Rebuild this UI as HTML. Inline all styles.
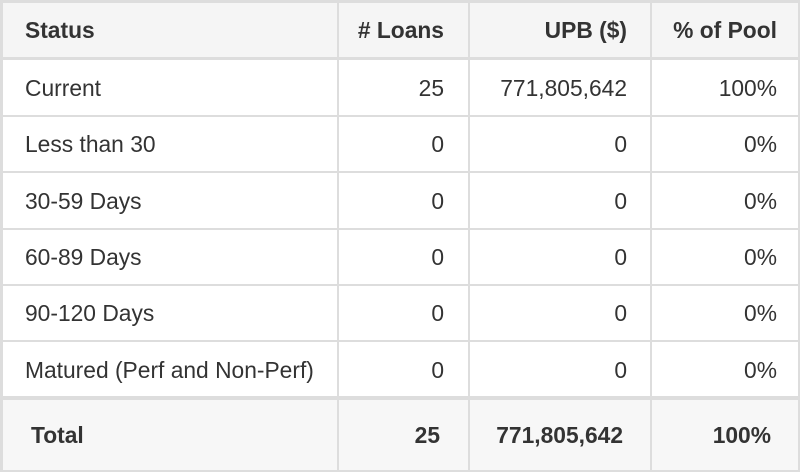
<!DOCTYPE html>
<html><head><style>
body{margin:0;width:800px;height:472px;background:#fff;font-family:"Liberation Sans",Arial,sans-serif;color:#333;position:relative;overflow:hidden}
.h{position:absolute;background:#ddd}
.t{position:absolute;font-size:22.8px;line-height:26px;white-space:nowrap}
.b{font-weight:bold}
.r{text-align:right}
</style></head><body>
<div style="position:absolute;left:0;top:0;width:800px;height:58px;background:#f5f5f5"></div>
<div style="position:absolute;left:0;top:399px;width:800px;height:73px;background:#f7f7f7"></div>
<div class="h" style="left:0;top:0;width:800px;height:3px"></div>
<div class="h" style="left:0;top:57px;width:800px;height:3px"></div>
<div class="h" style="left:0;top:115px;width:800px;height:2px"></div>
<div class="h" style="left:0;top:171px;width:800px;height:2px"></div>
<div class="h" style="left:0;top:228px;width:800px;height:2px"></div>
<div class="h" style="left:0;top:284px;width:800px;height:2px"></div>
<div class="h" style="left:0;top:340px;width:800px;height:2px"></div>
<div class="h" style="left:0;top:396px;width:800px;height:4px"></div>
<div class="h" style="left:0;top:470px;width:800px;height:2px"></div>
<div class="h" style="left:0;top:0;width:3px;height:472px"></div>
<div class="h" style="left:337px;top:0;width:2px;height:472px"></div>
<div class="h" style="left:468px;top:0;width:2px;height:472px"></div>
<div class="h" style="left:650px;top:0;width:2px;height:472px"></div>
<div class="h" style="left:798px;top:0;width:2px;height:472px"></div>

<div class="t b" style="left:25px;top:17px">Status</div>
<div class="t b r" style="right:356px;top:17px"># Loans</div>
<div class="t b r" style="right:173px;top:17px">UPB ($)</div>
<div class="t b r" style="right:23px;top:17px">% of Pool</div>

<div class="t" style="left:25px;top:75px">Current</div>
<div class="t r" style="right:356px;top:75px">25</div>
<div class="t r" style="right:173px;top:75px">771,805,642</div>
<div class="t r" style="right:23px;top:75px">100%</div>

<div class="t" style="left:25px;top:131px">Less than 30</div>
<div class="t r" style="right:356px;top:131px">0</div>
<div class="t r" style="right:173px;top:131px">0</div>
<div class="t r" style="right:23px;top:131px">0%</div>

<div class="t" style="left:25px;top:188px">30-59 Days</div>
<div class="t r" style="right:356px;top:188px">0</div>
<div class="t r" style="right:173px;top:188px">0</div>
<div class="t r" style="right:23px;top:188px">0%</div>

<div class="t" style="left:25px;top:244px">60-89 Days</div>
<div class="t r" style="right:356px;top:244px">0</div>
<div class="t r" style="right:173px;top:244px">0</div>
<div class="t r" style="right:23px;top:244px">0%</div>

<div class="t" style="left:25px;top:300px">90-120 Days</div>
<div class="t r" style="right:356px;top:300px">0</div>
<div class="t r" style="right:173px;top:300px">0</div>
<div class="t r" style="right:23px;top:300px">0%</div>

<div class="t" style="left:25px;top:357px">Matured (Perf and Non-Perf)</div>
<div class="t r" style="right:356px;top:357px">0</div>
<div class="t r" style="right:173px;top:357px">0</div>
<div class="t r" style="right:23px;top:357px">0%</div>

<div class="t b" style="left:31px;top:422px">Total</div>
<div class="t b r" style="right:360px;top:422px">25</div>
<div class="t b r" style="right:177px;top:422px">771,805,642</div>
<div class="t b r" style="right:29px;top:422px">100%</div>
</body></html>
